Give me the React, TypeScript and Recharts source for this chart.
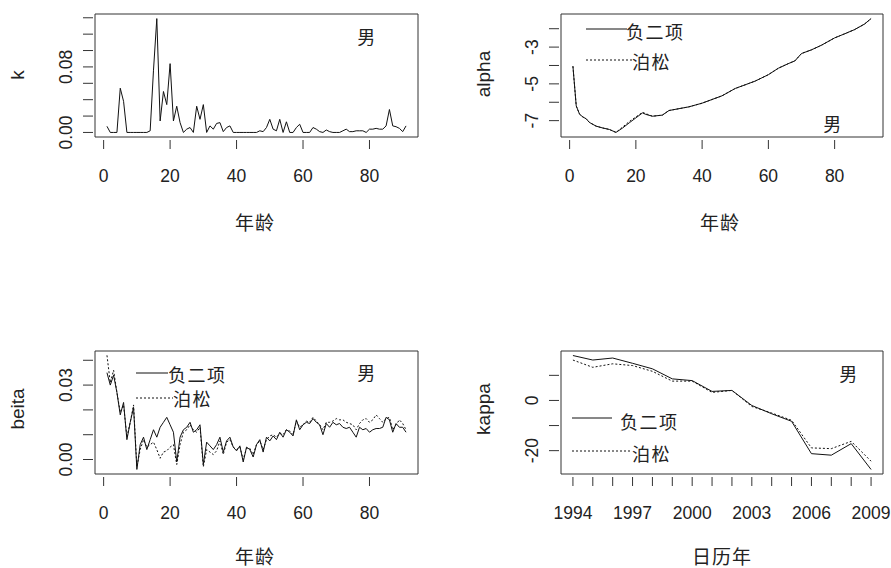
import React from 'react';
import { LineChart, Line, XAxis, YAxis, ReferenceArea } from 'recharts';

const FONT = '"Liberation Sans", Arial, "Noto Sans CJK SC", sans-serif';
const CJK = '"Noto Sans CJK SC", "Liberation Sans", sans-serif';
const INK = '#222';
const FRAME = '#333';

// ages 1..91
const ages = Array.from({ length: 91 }, (_, i) => i + 1);

const kValues = [
  0.0075, 0, 0, 0, 0.054, 0.038, 0, 0, 0, 0,
  0, 0, 0, 0.002, 0.076, 0.139, 0.014, 0.05, 0.034, 0.084,
  0.014, 0.032, 0.012, 0, 0.004, 0.006, 0, 0.032, 0.016, 0.034,
  0, 0.008, 0.004, 0.011, 0.012, 0.001, 0.006, 0.008, 0, 0,
  0, 0, 0, 0, 0, 0, 0.002, 0.001, 0.006, 0.016,
  0.004, 0.002, 0.016, 0, 0.013, 0, 0, 0.006, 0.01, 0,
  0, 0, 0.006, 0.004, 0.001, 0, 0.003, 0.001, 0, 0,
  0, 0.002, 0.004, 0.001, 0.001, 0.002, 0.002, 0.002, 0, 0.004,
  0.004, 0.005, 0.004, 0.004, 0.008, 0.028, 0.008, 0.007, 0.005, 0.001,
  0.008,
];

const alphaAges = [1, 2, 3, 4, 5, 6, 8, 10, 12, 14, 16, 18, 20, 22, 23, 25, 28, 30, 33, 36, 40, 43, 46, 50, 53, 56, 60, 63, 66, 68, 70, 73, 76, 80, 83, 86, 89, 91];
const alphaNB = [-4.04, -6.2, -6.65, -6.8, -6.9, -7.1, -7.3, -7.4, -7.48, -7.64, -7.4, -7.12, -6.85, -6.58, -6.66, -6.76, -6.7, -6.45, -6.35, -6.25, -6.05, -5.85, -5.65, -5.25, -5.05, -4.85, -4.5, -4.15, -3.9, -3.75, -3.35, -3.15, -2.9, -2.5, -2.28, -2.05, -1.75, -1.45];
const alphaPois = [-4.04, -6.2, -6.65, -6.8, -6.9, -7.1, -7.3, -7.4, -7.48, -7.64, -7.35, -7.05, -6.8, -6.55, -6.62, -6.76, -6.7, -6.45, -6.35, -6.25, -6.05, -5.85, -5.65, -5.25, -5.05, -4.85, -4.5, -4.15, -3.9, -3.75, -3.35, -3.15, -2.9, -2.5, -2.28, -2.05, -1.75, -1.45];

const beitaNB = [
  0.035, 0.03, 0.034, 0.027, 0.018, 0.023, 0.008, 0.015, 0.021, -0.004,
  0.006, 0.009, 0.004, 0.008, 0.012, 0.009, 0.013, 0.015, 0.017, 0.014,
  0.011, -0.001, 0.009, 0.012, 0.013, 0.015, 0.011, 0.012, 0.014, -0.002,
  0.007, 0.0055, 0.004, 0.006, 0.009, 0.003, 0.0075, 0.009, 0.005, 0.0035,
  0.0055, -0.001, 0.005, 0.004, 0.001, 0.006, 0.008, 0.003, 0.009, 0.0075,
  0.0095, 0.008, 0.011, 0.009, 0.012, 0.011, 0.0095, 0.016, 0.012, 0.014,
  0.015, 0.0145, 0.0165, 0.015, 0.014, 0.01, 0.0145, 0.013, 0.015, 0.014,
  0.0145, 0.013, 0.0125, 0.013, 0.011, 0.009, 0.013, 0.012, 0.0125, 0.011,
  0.012, 0.0125, 0.0125, 0.013, 0.017, 0.016, 0.011, 0.0145, 0.013, 0.013,
  0.011,
];
const beitaPois = [
  0.042, 0.031, 0.036, 0.027, 0.019, 0.022, 0.009, 0.015, 0.022, -0.003,
  0.004, 0.008, 0.005, 0.006, 0.007, 0.004, 0.0005, 0.003, 0.0035, 0.005,
  0.006, -0.002, 0.006, 0.011, 0.012, 0.014, 0.012, 0.011, 0.013, -0.003,
  0.004, 0.003, 0.002, 0.0035, 0.0075, 0.002, 0.007, 0.008, 0.005, 0.004,
  0.005, 0, 0.0045, 0.0045, 0.002, 0.006, 0.0075, 0.004, 0.008, 0.0095,
  0.01, 0.009, 0.0105, 0.01, 0.012, 0.0115, 0.01, 0.0155, 0.013, 0.014,
  0.0155, 0.015, 0.017, 0.0155, 0.014, 0.012, 0.015, 0.015, 0.0155, 0.0165,
  0.016, 0.016, 0.015, 0.0145, 0.014, 0.012, 0.0145, 0.016, 0.0165, 0.015,
  0.016, 0.018, 0.0165, 0.015, 0.0165, 0.017, 0.012, 0.014, 0.016, 0.0145,
  0.012,
];

const years = [1994, 1995, 1996, 1997, 1998, 1999, 2000, 2001, 2002, 2003, 2004, 2005, 2006, 2007, 2008, 2009];
const kappaNB = [17.9, 16.1, 16.9, 14.8, 12.6, 8.6, 7.9, 3.6, 4.0, -2.0, -5.3, -8.3, -21.2, -21.8, -17.2, -27.5];
const kappaPois = [16.1, 13.2, 14.6, 13.9, 11.6, 7.7, 7.7, 3.2, 4.0, -2.4, -5.0, -7.9, -18.9, -19.2, -16.3, -24.2];

const ageTicks = [0, 20, 40, 60, 80];
const yearTicks = years;
const yearLabels = [1994, 1997, 2000, 2003, 2006, 2009];
const kTicks = [0, 0.02, 0.04, 0.06, 0.08, 0.1, 0.12, 0.14];
const kLabels = [0, 0.08];
const alphaTicks = [-7, -6, -5, -4, -3, -2];
const alphaLabels = [-7, -5, -3];
const beitaTicks = [0, 0.01, 0.02, 0.03, 0.04];
const beitaLabels = [0, 0.03];
const kappaTicks = [-20, -10, 0, 10];
const kappaLabels = [-20, 0];

const kData = ages.map((a, i) => ({ x: a, nb: kValues[i] }));
const alphaData = alphaAges.map((a, i) => ({ x: a, nb: alphaNB[i], pois: alphaPois[i] }));
const beitaData = ages.map((a, i) => ({ x: a, nb: beitaNB[i], pois: beitaPois[i] }));
const kappaData = years.map((y, i) => ({ x: y, nb: kappaNB[i], pois: kappaPois[i] }));

const makeXTick = (labels: number[]) => (props: any) => {
  const { x, y, payload } = props;
  const show = labels.includes(payload.value);
  return (
    <g>
      <line x1={x} y1={y + 3} x2={x} y2={y + 12} stroke={FRAME} />
      {show && (
        <text x={x} y={y + 45} textAnchor="middle" fontSize={17.5} fill={INK} fontFamily={FONT}>
          {payload.value}
        </text>
      )}
    </g>
  );
};

const makeYTick = (labels: number[], digits: number) => (props: any) => {
  const { x, y, payload } = props;
  const show = labels.some((l) => Math.abs(l - payload.value) < 1e-9);
  const tx = x - 23;
  return (
    <g>
      <line x1={x - 2} y1={y} x2={x - 12} y2={y} stroke={FRAME} />
      {show && (
        <text x={tx} y={y} transform={`rotate(-90 ${tx} ${y})`} textAnchor="middle" fontSize={17.5} fill={INK} fontFamily={FONT}>
          {payload.value.toFixed(digits)}
        </text>
      )}
    </g>
  );
};

interface PanelProps {
  left: number;
  top: number;
  width: number;
  height: number;
  box: { l: number; t: number; r: number; b: number };
  data: any[];
  xDomain: [number, number];
  xTicks: number[];
  xLabels: number[];
  yDomain: [number, number];
  yTicks: number[];
  yLabels: number[];
  yDigits: number;
  twoSeries: boolean;
  children?: React.ReactNode;
}

function Panel(p: PanelProps) {
  return (
    <div style={{ position: 'absolute', left: p.left, top: p.top }}>
      <LineChart
        width={p.width}
        height={p.height}
        data={p.data}
        margin={{ top: p.box.t, right: p.width - p.box.r, left: 0, bottom: 0 }}
      >
        <XAxis
          type="number"
          dataKey="x"
          domain={p.xDomain}
          ticks={p.xTicks}
          interval={0}
          allowDataOverflow
          axisLine={false}
          tickLine={false}
          tickSize={0}
          tickMargin={0}
          height={p.height - p.box.b}
          tick={makeXTick(p.xLabels)}
        />
        <YAxis
          type="number"
          domain={p.yDomain}
          ticks={p.yTicks}
          interval={0}
          allowDataOverflow
          axisLine={false}
          tickLine={false}
          tickSize={0}
          tickMargin={0}
          width={p.box.l}
          tick={makeYTick(p.yLabels, p.yDigits)}
        />
        <ReferenceArea
          x1={p.xDomain[0]}
          x2={p.xDomain[1]}
          y1={p.yDomain[0]}
          y2={p.yDomain[1]}
          fill="none"
          fillOpacity={0}
          stroke={FRAME}
          strokeWidth={1}
        />
        {p.twoSeries && (
          <Line
            type="linear"
            dataKey="pois"
            stroke="#111"
            strokeWidth={1}
            strokeDasharray="2 2"
            dot={false}
            isAnimationActive={false}
          />
        )}
        <Line type="linear" dataKey="nb" stroke="#111" strokeWidth={1} dot={false} isAnimationActive={false} />
        {p.children}
      </LineChart>
    </div>
  );
}

const Title = ({ x, y, text, rotate }: { x: number; y: number; text: string; rotate?: boolean }) => (
  <text
    x={x}
    y={y}
    textAnchor="middle"
    dominantBaseline="central"
    transform={rotate ? `rotate(-90 ${x} ${y})` : undefined}
    fontSize={19}
    letterSpacing={rotate ? 0 : 1}
    fill={INK}
    fontFamily={rotate ? FONT : CJK}
  >
    {text}
  </text>
);

const Note = ({ x, y, text, anchor = 'start' }: { x: number; y: number; text: string; anchor?: string }) => (
  <text x={x} y={y} textAnchor={anchor as any} dominantBaseline="central" fontSize={18} letterSpacing={1.5} fill={INK} fontFamily={CJK}>
    {text}
  </text>
);

const Key = ({ x1, x2, y, dashed }: { x1: number; x2: number; y: number; dashed?: boolean }) => (
  <line x1={x1} y1={y} x2={x2} y2={y} stroke="#111" strokeDasharray={dashed ? '2 2' : undefined} />
);

export default function App() {
  return (
    <div style={{ position: 'absolute', left: 0, top: 0, width: 891, height: 568, background: '#fff' }}>
      <Panel
        left={0}
        top={0}
        width={445}
        height={284}
        box={{ l: 95, t: 14, r: 418, b: 137 }}
        data={kData}
        xDomain={[-2.6, 94.6]}
        xTicks={ageTicks}
        xLabels={ageTicks}
        yDomain={[-0.00556, 0.1446]}
        yTicks={kTicks}
        yLabels={kLabels}
        yDigits={2}
        twoSeries={false}
      >
        <Title x={255} y={221} text="年龄" />
        <Title x={17} y={75} text="k" rotate />
        <Note x={367} y={36} text="男" anchor="middle" />
      </Panel>

      <Panel
        left={445}
        top={0}
        width={446}
        height={284}
        box={{ l: 116, t: 14, r: 438, b: 137 }}
        data={alphaData}
        xDomain={[-2.6, 94.6]}
        xTicks={ageTicks}
        xLabels={ageTicks}
        yDomain={[-7.89, -1.2]}
        yTicks={alphaTicks}
        yLabels={alphaLabels}
        yDigits={0}
        twoSeries
      >
        <Title x={275} y={221} text="年龄" />
        <Title x={38} y={74} text="alpha" rotate />
        <Key x1={141} x2={182} y={29} />
        <Note x={181} y={31} text="负二项" />
        <Key x1={141} x2={187} y={60} dashed />
        <Note x={187} y={61} text="泊松" />
        <Note x={388} y={123} text="男" anchor="middle" />
      </Panel>

      <Panel
        left={0}
        top={284}
        width={445}
        height={284}
        box={{ l: 95, t: 67, r: 418, b: 190 }}
        data={beitaData}
        xDomain={[-2.6, 94.6]}
        xTicks={ageTicks}
        xLabels={ageTicks}
        yDomain={[-0.00584, 0.04374]}
        yTicks={beitaTicks}
        yLabels={beitaLabels}
        yDigits={2}
        twoSeries
      >
        <Title x={255} y={271} text="年龄" />
        <Title x={17} y={125} text="beita" rotate />
        <Key x1={136} x2={168} y={89} />
        <Note x={168} y={90} text="负二项" />
        <Key x1={136} x2={173} y={114} dashed />
        <Note x={173} y={114} text="泊松" />
        <Note x={367} y={88} text="男" anchor="middle" />
      </Panel>

      <Panel
        left={445}
        top={284}
        width={446}
        height={284}
        box={{ l: 116, t: 67, r: 438, b: 190 }}
        data={kappaData}
        xDomain={[1993.4, 2009.6]}
        xTicks={yearTicks}
        xLabels={yearLabels}
        yDomain={[-29.3, 19.7]}
        yTicks={kappaTicks}
        yLabels={kappaLabels}
        yDigits={0}
        twoSeries
      >
        <Title x={277} y={271} text="日历年" />
        <Title x={38} y={125} text="kappa" rotate />
        <Key x1={127} x2={167} y={134} />
        <Note x={175} y={137} text="负二项" />
        <Key x1={127} x2={187} y={167} dashed />
        <Note x={187} y={169} text="泊松" />
        <Note x={404} y={89} text="男" anchor="middle" />
      </Panel>
    </div>
  );
}
